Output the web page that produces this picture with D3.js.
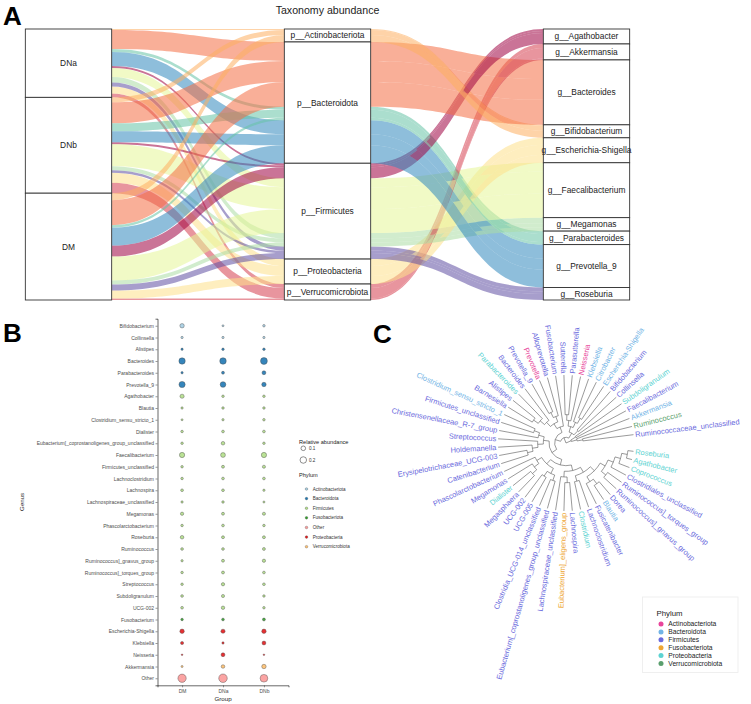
<!DOCTYPE html>
<html><head><meta charset="utf-8">
<script src="https://cdn.jsdelivr.net/npm/d3@7"></script>
<style>body{margin:0;background:#fff;} svg{display:block;font-family:"Liberation Sans",Arial,sans-serif;}</style>
</head><body><svg id="chart" width="751" height="704"></svg>
<script>
// ================= Panel A data (alluvial) =================
const groups = ["DNa","DNb","DM"];
const phyla = ["Actinobacteriota","Bacteroidota","Firmicutes","Proteobacteria","Verrucomicrobiota"];
const genera = ["Agathobacter","Akkermansia","Bacteroides","Bifidobacterium","Escherichia-Shigella","Faecalibacterium","Megamonas","Parabacteroides","Prevotella_9","Roseburia"];
const generaPhylum = ["Firmicutes","Verrucomicrobiota","Bacteroidota","Actinobacteriota","Proteobacteria","Firmicutes","Firmicutes","Bacteroidota","Bacteroidota","Firmicutes"];
const abundDNa = [2,4,19,1,7,9,5.5,3,14,4];
const abundDNb = [2,10.5,21,5,10,22,4,8,11,2.5];
const abundDM  = [11,1.5,25,7,8,24,4,2.5,18,6];

// ================= Panel B data (bubble) =================
const bGenus = ["Bifidobacterium","Collinsella","Alistipes","Bacteroides","Parabacteroides","Prevotella_9","Agathobacter","Blautia","Clostridium_sensu_stricto_1","Dialister","Eubacterium[_coprostanoligenes_group_unclassified","Faecalibacterium","Firmicutes_unclassified","Lachnoclostridium","Lachnospira","Lachnospiraceae_unclassified","Megamonas","Phascolarctobacterium","Roseburia","Ruminococcus","Ruminococcus]_gnavus_group","Ruminococcus]_torques_group","Streptococcus","Subdoligranulum","UCG-002","Fusobacterium","Escherichia-Shigella","Klebsiella","Neisseria","Akkermansia","Other"];
const bPhylum = ["Actinobacteriota","Actinobacteriota","Bacteroidota","Bacteroidota","Bacteroidota","Bacteroidota","Firmicutes","Firmicutes","Firmicutes","Firmicutes","Firmicutes","Firmicutes","Firmicutes","Firmicutes","Firmicutes","Firmicutes","Firmicutes","Firmicutes","Firmicutes","Firmicutes","Firmicutes","Firmicutes","Firmicutes","Firmicutes","Firmicutes","Fusobacteriota","Proteobacteria","Proteobacteria","Proteobacteria","Verrucomicrobiota","Other"];
const bGroups = ["DM","DNa","DNb"];
const bDM  = [0.09,0.025,0.025,0.19,0.025,0.18,0.08,0.025,0.018,0.03,0.03,0.13,0.03,0.03,0.035,0.025,0.05,0.03,0.06,0.035,0.025,0.03,0.03,0.035,0.035,0.03,0.09,0.045,0.012,0.02,0.32];
const bDNa = [0.018,0.025,0.028,0.2,0.04,0.15,0.03,0.03,0.025,0.035,0.06,0.11,0.04,0.035,0.035,0.03,0.04,0.035,0.04,0.035,0.04,0.04,0.05,0.045,0.055,0.035,0.08,0.025,0.07,0.06,0.34];
const bDNb = [0.03,0.025,0.03,0.22,0.07,0.09,0.03,0.03,0.03,0.035,0.03,0.13,0.045,0.035,0.025,0.02,0.045,0.03,0.04,0.04,0.05,0.035,0.035,0.03,0.03,0.04,0.09,0.07,0.012,0.09,0.28];
const bPhylumLevels = ["Actinobacteriota","Bacteroidota","Firmicutes","Fusobacteriota","Other","Proteobacteria","Verrucomicrobiota"];
const bSizeBreaks = [0.1,0.2];

// ================= Panel C data (tree) =================
const cClades = [
  "(((Ruminococcaceae_unclassified,Ruminococcus),Akkermansia),(Faecalibacterium,Subdoligranulum))",
  "((Collinsella,Bifidobacterium),(((Escherichia-Shigella,Citrobacter),Klebsiella),(Neisseria,(Parasutterella,Sutterella))))",
  "(Fusobacterium,((Alloprevotella,(Prevotella,Prevotella_9)),(Bacteroides,(Parabacteroides,(Alistipes,Barnesiella)))))",
  "(((Clostridium_sensu_stricto_1,Firmicutes_unclassified),Christensenellaceae_R-7_group),(Streptococcus,(Holdemanella,(Erysipelotrichaceae_UCG-003,Catenibacterium))))",
  "((Phascolarctobacterium,(Megamonas,(Dialister,Megasphaera))),((UCG-002,UCG-005),(Clostridia_UCG-014_unclassified,Eubacterium[_coprostanoligenes_group_unclassified)))",
  "((Lachnospiraceae_unclassified,(Eubacterium]_eligens_group,Lachnospira)),((Clostridium,Lachnoclostridium),((Fusicatenibacter,(Blautia,Dorea)),((Ruminococcus]_gnavus_group,Ruminococcus]_torques_group),(Clostridiales_unclassified,(Coprococcus,(Agathobacter,Roseburia)))))))"
];
const cTips = ["Ruminococcaceae_unclassified","Ruminococcus","Akkermansia","Faecalibacterium","Subdoligranulum","Collinsella","Bifidobacterium","Escherichia-Shigella","Citrobacter","Klebsiella","Neisseria","Parasutterella","Sutterella","Fusobacterium","Alloprevotella","Prevotella","Prevotella_9","Bacteroides","Parabacteroides","Alistipes","Barnesiella","Clostridium_sensu_stricto_1","Firmicutes_unclassified","Christensenellaceae_R-7_group","Streptococcus","Holdemanella","Erysipelotrichaceae_UCG-003","Catenibacterium","Phascolarctobacterium","Megamonas","Dialister","Megasphaera","UCG-002","UCG-005","Clostridia_UCG-014_unclassified","Eubacterium[_coprostanoligenes_group_unclassified","Lachnospiraceae_unclassified","Eubacterium]_eligens_group","Lachnospira","Clostridium","Lachnoclostridium","Fusicatenibacter","Blautia","Dorea","Ruminococcus]_gnavus_group","Ruminococcus]_torques_group","Clostridiales_unclassified","Coprococcus","Agathobacter","Roseburia"];
const cTipPhylum = ["Firmicutes","Verrucomicrobiota","Bacteroidota","Firmicutes","Proteobacteria","Firmicutes","Firmicutes","Bacteroidota","Bacteroidota","Bacteroidota","Actinobacteriota","Firmicutes","Firmicutes","Firmicutes","Firmicutes","Actinobacteriota","Firmicutes","Firmicutes","Proteobacteria","Firmicutes","Firmicutes","Bacteroidota","Firmicutes","Firmicutes","Firmicutes","Firmicutes","Firmicutes","Firmicutes","Firmicutes","Firmicutes","Proteobacteria","Firmicutes","Firmicutes","Firmicutes","Firmicutes","Firmicutes","Firmicutes","Fusobacteriota","Firmicutes","Proteobacteria","Firmicutes","Firmicutes","Bacteroidota","Firmicutes","Firmicutes","Firmicutes","Firmicutes","Proteobacteria","Proteobacteria","Proteobacteria"];
const cPhylumLevels = ["Actinobacteriota","Bacteroidota","Firmicutes","Fusobacteriota","Proteobacteria","Verrucomicrobiota"];
const cPhylumColors = ["#e8459b","#72b4e6","#6a6add","#eea634","#5dd3d2","#5b9f6e"];

// =====================================================================
const svg = d3.select("#chart");

[["A",3,25],["B",3,342],["C",373,343]].forEach(([t,x,y])=>{
  svg.append("text").attr("x",x).attr("y",y).attr("font-size",26).attr("font-weight","bold").attr("fill","#000").text(t);
});

// ---------------- Panel A ----------------
(function(){
  const gA = svg.append("g");
  const abund = {DNa:abundDNa, DNb:abundDNb, DM:abundDM};
  const genusColor = d3.scaleOrdinal().domain(genera).range(d3.schemeSpectral[10]);
  const lodes = [];
  groups.forEach((g,gi)=>genera.forEach((k,ki)=>{
    const p = generaPhylum[ki];
    lodes.push({g,gi,k,ki,p,pi:phyla.indexOf(p),v:abund[g][ki]});
  }));
  const total = d3.sum(lodes,d=>d.v);
  const y = d3.scaleLinear().domain([0,total]).range([29,300]);
  function stack(key,cmp){ let acc=0; [...lodes].sort(cmp).forEach(d=>{d[key]=[acc,acc+d.v]; acc+=d.v;}); }
  stack("a1",(a,b)=>a.gi-b.gi||a.pi-b.pi||a.ki-b.ki);
  stack("a2",(a,b)=>a.pi-b.pi||a.ki-b.ki||a.gi-b.gi);
  stack("a3",(a,b)=>a.ki-b.ki||a.gi-b.gi);
  const ax = d3.scalePoint().domain(["Group","Phylum","Genus"]).range([68.5,586.5]);
  const bw = (ax("Phylum")-ax("Group"))/3;
  function flow(x0,x1,t0,b0,t1,b1){
    const m=(x0+x1)/2;
    return `M${x0},${t0}C${m},${t0} ${m},${t1} ${x1},${t1}L${x1},${b1}C${m},${b1} ${m},${b0} ${x0},${b0}Z`;
  }
  const fl = gA.append("g");
  [["a1","a2","Group","Phylum"],["a2","a3","Phylum","Genus"]].forEach(([ka,kb,A,B])=>{
    const x0 = ax(A)+bw/2, x1 = ax(B)-bw/2;
    fl.append("g").selectAll("path").data(lodes.filter(d=>d.v>0)).join("path")
      .attr("d",d=>flow(x0,x1,y(d[ka][0]),y(d[ka][1]),y(d[kb][0]),y(d[kb][1])))
      .attr("fill",d=>genusColor(d.k)).attr("fill-opacity",0.55);
  });
  function strata(key,field,levels,axis,prefix){
    const data = levels.map(l=>{
      const ls = lodes.filter(d=>d[field]===l);
      return {l, y0:d3.min(ls,d=>d[key][0]), y1:d3.max(ls,d=>d[key][1])};
    }).filter(d=>d.y1>d.y0);
    const g = gA.append("g");
    g.selectAll("rect").data(data).join("rect")
      .attr("x",ax(axis)-bw/2).attr("width",bw)
      .attr("y",d=>y(d.y0)).attr("height",d=>y(d.y1)-y(d.y0))
      .attr("fill","#fff").attr("stroke","#333").attr("stroke-width",0.9);
    g.selectAll("text").data(data).join("text")
      .attr("x",ax(axis)).attr("y",d=>(y(d.y0)+y(d.y1))/2).attr("dy","0.35em")
      .attr("text-anchor","middle").attr("font-size",8.4).attr("fill","#222")
      .text(d=>prefix+d.l);
  }
  strata("a1","g",groups,"Group","");
  strata("a2","p",phyla,"Phylum","p__");
  strata("a3","k",genera,"Genus","g__");
  gA.append("text").attr("x",ax("Phylum")).attr("y",14).attr("text-anchor","middle")
    .attr("font-size",10.6).attr("fill","#222").text("Taxonomy abundance");
})();

// ---------------- Panel B ----------------
(function(){
  const gB = svg.append("g");
  const x = d3.scalePoint().domain(bGroups).range([157.5,288.5]).padding(0.6);
  const y = d3.scalePoint().domain(bGenus).range([318.7,685.3]).padding(0.6);
  const r = d3.scaleSqrt().domain([0,1]).range([0,7.3]);
  const col = d3.scaleOrdinal().domain(bPhylumLevels).range(d3.schemePaired.slice(0,7));
  const vals = {DM:bDM, DNa:bDNa, DNb:bDNb};
  const pts = [];
  bGroups.forEach(g=>bGenus.forEach((k,i)=>pts.push({g,k,p:bPhylum[i],v:vals[g][i]})));
  gB.append("g").selectAll("circle").data(pts).join("circle")
    .attr("cx",d=>x(d.g)).attr("cy",d=>y(d.k)).attr("r",d=>r(d.v))
    .attr("fill",d=>col(d.p)).attr("fill-opacity",0.9)
    .attr("stroke","#444").attr("stroke-width",0.4);
  const yAxis = gB.append("g").attr("transform","translate(157.5,0)")
    .call(d3.axisLeft(y).tickSize(2).tickPadding(1.5));
  yAxis.selectAll("text").attr("font-size",5).attr("fill","#4d4d4d").attr("font-family","Liberation Sans, Arial");
  const xAxis = gB.append("g").attr("transform","translate(0,685.3)")
    .call(d3.axisBottom(x).tickSize(2).tickPadding(2));
  xAxis.selectAll("text").attr("font-size",5).attr("fill","#4d4d4d").attr("font-family","Liberation Sans, Arial");
  [yAxis,xAxis].forEach(a=>{a.select(".domain").attr("stroke","#000").attr("stroke-width",0.6); a.selectAll(".tick line").attr("stroke","#333").attr("stroke-width",0.5);});
  gB.append("text").attr("x",223).attr("y",701).attr("text-anchor","middle").attr("font-size",6.2).attr("fill","#222").text("Group");
  gB.append("text").attr("transform","translate(24,502) rotate(-90)").attr("text-anchor","middle").attr("font-size",6.2).attr("fill","#222").text("Genus");
  const lg = gB.append("g");
  lg.append("text").attr("x",299).attr("y",444).attr("font-size",5.6).attr("fill","#222").text("Relative abundance");
  const sy = d3.scalePoint().domain(bSizeBreaks).range([448.3,460]);
  bSizeBreaks.forEach(b=>{
    lg.append("circle").attr("cx",303.3).attr("cy",sy(b)).attr("r",r(b)).attr("fill","none").attr("stroke","#222").attr("stroke-width",0.5);
    lg.append("text").attr("x",309).attr("y",sy(b)).attr("dy","0.35em").attr("font-size",4.6).attr("fill","#333").text(b);
  });
  lg.append("text").attr("x",299).attr("y",477).attr("font-size",5.6).attr("fill","#222").text("Phylum");
  const py = d3.scalePoint().domain(bPhylumLevels).range([489,546.7]);
  bPhylumLevels.forEach(p=>{
    lg.append("circle").attr("cx",306.5).attr("cy",py(p)).attr("r",1.3).attr("fill",col(p)).attr("stroke","#444").attr("stroke-width",0.3);
    lg.append("text").attr("x",312.7).attr("y",py(p)).attr("dy","0.35em").attr("font-size",4.6).attr("fill","#333").text(p);
  });
})();

// ---------------- Panel C ----------------
(function(){
  function parseNewick(str){
    let i=0;
    function node(){
      if(str[i]==="("){
        i++; const ch=[];
        while(i<str.length){
          ch.push(node());
          if(str[i]===","){i++;continue;}
          if(str[i]===")"){i++;}
          break;
        }
        return {children:ch};
      }
      const j=i; while(i<str.length && !",();".includes(str[i])) i++;
      return {name:str.slice(j,i)};
    }
    return node();
  }
  const [cA,cB,cCc,cD,cE,cF] = cClades;
  const newick = "("+cA+",("+cB+",("+cCc+",("+cD+",("+cE+","+cF+")))));";
  const gC = svg.append("g");
  const cx=566, cy=443, R=68;
  const root = d3.hierarchy(parseNewick(newick));
  const n = root.leaves().length;
  const stepRad = 7.06*Math.PI/180;
  d3.cluster().size([n*stepRad,1]).separation(()=>1)(root);
  const start = 3.5*Math.PI/180;
  const maxDepth = d3.max(root.leaves(),d=>d.depth);
  const rS = d3.scaleLinear().domain([0,maxDepth]).range([0,R]);
  const rad = d=>d.children? rS(d.depth) : R;
  const ang = d=>start+d.x;
  const P = (r,a)=>[cx+r*Math.cos(a), cy-r*Math.sin(a)];
  const tipColor = d3.scaleOrdinal().domain(cPhylumLevels).range(cPhylumColors);
  gC.append("g").selectAll("path").data(root.descendants().filter(d=>d.parent)).join("path")
    .attr("d",d=>{
      const a=ang(d), ap=ang(d.parent), r=rad(d), rp=rad(d.parent);
      const [x1,y1]=P(r,a), [x2,y2]=P(rp,a), [x3,y3]=P(rp,ap);
      let s=`M${x1},${y1}L${x2},${y2}`;
      if(rp>0){
        const large = Math.abs(ap-a)>Math.PI?1:0;
        const sweep = ap>a?0:1;
        s+=`A${rp},${rp} 0 ${large} ${sweep} ${x3},${y3}`;
      }
      return s;
    })
    .attr("fill","none").attr("stroke","#555").attr("stroke-width",0.6);
  const degOf = d=>((ang(d)*180/Math.PI)%360+360)%360;
  gC.append("g").selectAll("text").data(root.leaves()).join("text")
    .attr("transform",d=>{
      const deg=degOf(d); const [x,y]=P(R+1.8,ang(d));
      const flip = deg>90 && deg<270;
      return `translate(${x},${y}) rotate(${flip?180-deg:-deg})`;
    })
    .attr("text-anchor",d=>{const deg=degOf(d); return (deg>90&&deg<270)?"end":"start";})
    .attr("dy","0.35em").attr("font-size",7.5)
    .attr("fill",d=>tipColor(cTipPhylum[cTips.indexOf(d.data.name)]))
    .text(d=>d.data.name);
  const lg = gC.append("g");
  lg.append("rect").attr("x",642.5).attr("y",597).attr("width",95.5).attr("height",75.5).attr("fill","#fff").attr("stroke","#ececec").attr("stroke-width",0.8);
  lg.append("text").attr("x",656.5).attr("y",616).attr("font-size",7.8).attr("fill","#222").text("Phylum");
  const ly = d3.scalePoint().domain(cPhylumLevels).range([624,663.5]);
  cPhylumLevels.forEach(p=>{
    lg.append("circle").attr("cx",661).attr("cy",ly(p)).attr("r",2.5).attr("fill",tipColor(p));
    lg.append("text").attr("x",668.3).attr("y",ly(p)).attr("dy","0.35em").attr("font-size",6.7).attr("fill","#222").text(p);
  });
})();
</script></body></html>
